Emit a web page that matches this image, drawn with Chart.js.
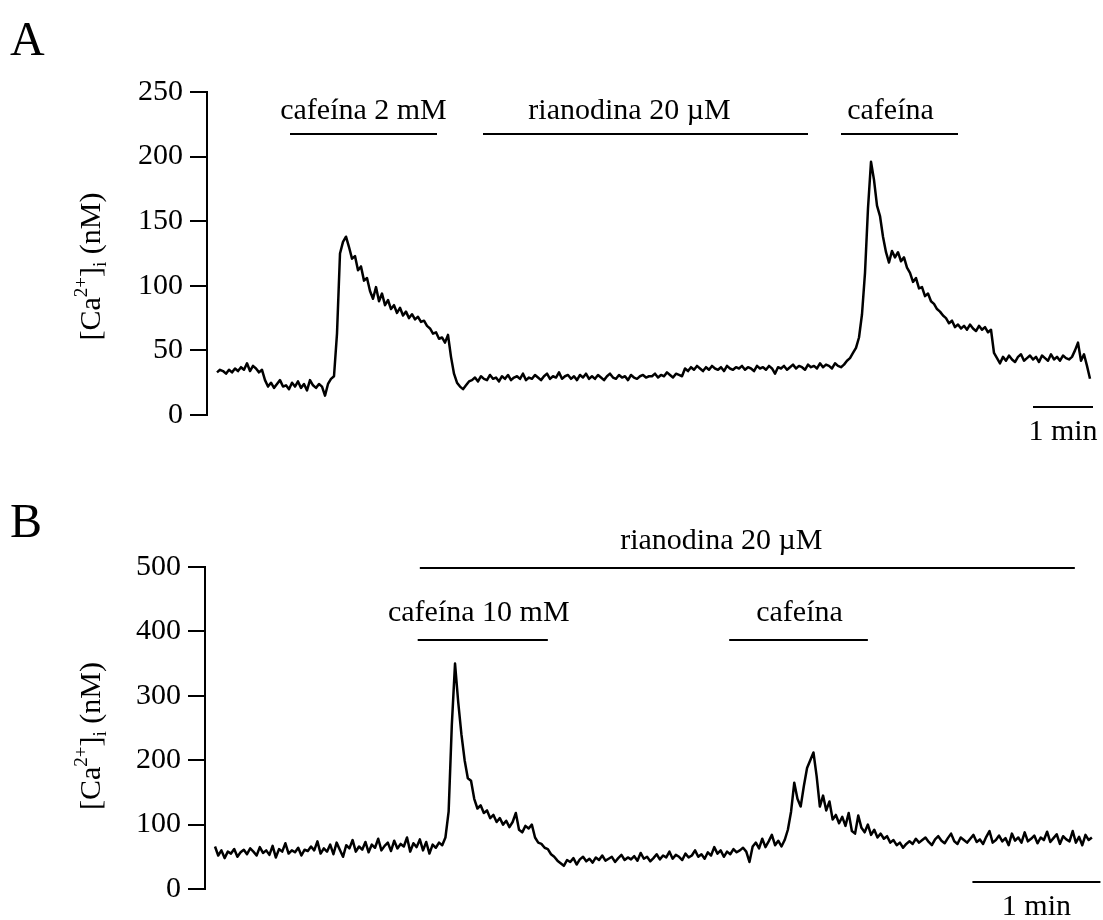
<!DOCTYPE html>
<html>
<head>
<meta charset="utf-8">
<title>[Ca2+]i: cafeína y rianodina</title>
<script src="https://cdn.jsdelivr.net/npm/chart.js@4.4.1/dist/chart.umd.min.js"></script>
<style>
  html, body { margin: 0; padding: 0; background: #fff; }
  .panel { width: 1103px; height: 460px; }
  canvas { display: block; }
</style>
</head>
<body>
<div class="panel"><canvas id="traceA" width="1103" height="460"></canvas></div>
<div class="panel"><canvas id="traceB" width="1103" height="460"></canvas></div>
<script>
// ---- panel A: one sample every 3 s, [Ca2+]i in nM ----
const stepA = 3;
const caA = [
  33, 35, 34, 32, 35, 33, 36, 34, 37, 35, 40, 34, 38, 36, 33, 35,
  27,
  22, 25, 21, 24, 27, 22, 23, 20, 25, 22, 26, 21, 24, 19, 27, 23, 21, 24, 22,
  15, 24, 28, 30,
  63, 125, 134, 138, 130, 121, 123, 112, 115, 104, 106, 96, 90, 99, 88, 94,
  85, 89, 82, 85, 79, 83, 77, 80, 75, 78, 74, 76, 72, 73, 69, 67, 63, 64,
  59, 60, 56, 62, 45, 32, 25, 22, 20, 23, 26,
  27, 29, 26, 30, 28, 27, 31, 28, 29, 26, 30, 28, 31, 27, 29, 30, 28, 32, 27, 29,
  28, 31, 29, 27, 30, 32, 28, 30, 29, 33, 28, 30, 31, 28, 30, 27, 31, 29, 32, 28,
  30, 28, 31, 29, 27, 30, 32, 29, 28, 31, 29, 30, 27, 31, 29, 28, 30, 31, 29, 30,
  30, 32, 29, 31, 30, 33, 31, 29, 32, 31, 30,
  36, 34, 37, 35, 38, 36, 34, 37, 35, 38, 36, 35, 37, 34, 38, 36, 35, 37, 36, 38,
  35, 37, 36, 34, 38, 36, 37, 35, 38, 36, 32, 37, 36, 38, 35, 37, 39, 36, 38, 37,
  35, 39, 37, 38, 36, 40, 37, 39, 38, 36, 40, 38, 37, 39,
  42, 44, 48, 52, 60, 78, 110, 160, 196, 182, 162, 154, 138, 126, 118, 127,
  122, 126, 119, 122, 114, 110, 103, 106, 98, 99, 92, 94, 88, 86, 82, 80,
  77, 75, 71, 73, 68, 70, 67, 69, 66, 70, 67, 65, 69, 66, 68, 64, 66, 48, 44, 40,
  45, 42, 46, 43, 41, 45, 47, 42, 44, 46, 43, 45, 41, 46, 44, 42, 47, 43, 45, 42,
  46, 44, 43, 45,
  50, 56, 42, 47, 38, 28
];
const yTicksA = [0, 50, 100, 150, 200, 250];
const drugLabelsA = ['cafeína 2 mM', 'rianodina 20 µM', 'cafeína'];
const drugStartA = [73, 266, 624];   // s
const drugEndA = [220, 591, 741];    // s
const scaleBarStartA = 816;          // s

// ---- panel B: one sample every 1.5 s ----
const stepB = 1.5;
const caB = [
  66, 52, 60, 48, 58, 55, 62, 50, 57, 61,
  54, 63, 58, 52, 65, 56, 60, 53, 67, 49,
  62, 58, 71, 55, 60, 57, 64, 52, 61, 59,
  66, 60, 74, 55, 63, 58, 69, 54, 72, 61,
  50, 68, 63, 76, 58, 66, 61, 73, 57, 69,
  64, 78, 60, 67, 72, 59, 75, 63, 70, 66,
  80, 58, 71, 65, 77, 60, 73, 55, 69, 64,
  72, 68,
  80, 120, 255, 350, 290, 240, 200, 172, 168, 140, 125, 130, 118, 122, 110,
  115, 104, 110, 100, 106, 96, 104, 118, 92, 88, 98, 94, 100, 80, 72, 70,
  64, 62, 54, 50, 44, 40, 36, 45,
  42, 48, 38, 46, 50, 43, 47, 41, 49, 45,
  52, 44, 47, 50, 42, 48, 53, 45, 49, 46,
  51, 44, 56, 47, 50, 43, 48, 54, 46, 52,
  49, 58, 47, 53, 50, 45, 55, 49, 52, 60,
  50, 54, 47, 57, 52, 65, 55, 60, 50, 58,
  54, 62, 57, 60, 64, 58, 42, 66, 72, 63,
  78, 65, 74, 84, 68, 75, 66,
  76, 92, 120, 165, 140, 128, 160, 188, 200, 212, 175, 128, 145, 122, 136,
  108, 115, 102, 112, 98, 118, 90, 86, 114, 95, 88, 100, 84, 92, 80, 86,
  78, 82, 72, 76, 68, 72, 64, 70,
  74, 70, 78, 72, 76, 80, 73, 68, 77, 82,
  75, 71, 79, 86, 74, 70, 80, 76, 72, 78,
  84, 73, 77, 70, 81, 90, 72, 76, 83, 74,
  79, 68, 86, 75, 80, 72, 88, 74, 78, 83,
  71, 80, 76, 89, 73, 79, 85, 70, 82, 77,
  74, 90, 72, 81, 68, 84, 76, 80
];
const yTicksB = [0, 100, 200, 300, 400, 500];
const drugLabelsB = ['rianodina 20 µM', 'cafeína 10 mM', 'cafeína'];
const drugStartB = [96, 95, 241];
const drugEndB = [403, 156, 306];
const scaleBarStartB = 355;

const scaleBarLength = 60;  // 1 min
const serif = '"Liberation Serif", "Times New Roman", serif';

Chart.defaults.font.family = serif;
Chart.defaults.color = '#000';

function toPoints(values, step) {
  return values.map((v, i) => ({ x: i * step, y: v }));
}

// draws "[Ca2+]i (nM)" rotated, with real super/subscripts
function drawCaTitle(ctx, baseX, centerY) {
  const big = '30px ' + serif, small = '19px ' + serif;
  const parts = [
    { t: '[Ca', f: big, dy: 0 },
    { t: '2+', f: small, dy: -13 },
    { t: ']', f: big, dy: 0 },
    { t: 'i', f: small, dy: 6 },
    { t: ' (nM)', f: big, dy: 0 }
  ];
  let total = 0;
  parts.forEach(p => { ctx.font = p.f; p.w = ctx.measureText(p.t).width; total += p.w; });
  ctx.save();
  ctx.translate(baseX, centerY);
  ctx.rotate(-Math.PI / 2);
  ctx.textAlign = 'left';
  ctx.textBaseline = 'alphabetic';
  let x = -total / 2;
  parts.forEach(p => { ctx.font = p.f; ctx.fillText(p.t, x, p.dy); x += p.w; });
  ctx.restore();
}

// drug application bars, 1 min scale bar, axis title, panel letter
function overlay(cfg) {
  return {
    id: 'overlay' + cfg.letter,
    afterDraw(chart) {
      const ctx = chart.ctx, xs = chart.scales.x, area = chart.chartArea;
      ctx.save();
      ctx.fillStyle = '#000';
      ctx.strokeStyle = '#000';
      ctx.lineWidth = 2;
      ctx.font = '30px ' + serif;
      ctx.textAlign = 'center';
      ctx.textBaseline = 'alphabetic';
      cfg.labels.forEach((label, i) => {
        const x1 = xs.getPixelForValue(cfg.starts[i]);
        const x2 = xs.getPixelForValue(cfg.ends[i]);
        const y = area.top + cfg.rows[i];
        ctx.beginPath();
        ctx.moveTo(x1, y);
        ctx.lineTo(x2, y);
        ctx.stroke();
        ctx.fillText(label, (x1 + x2) / 2 + cfg.labelShift[i], y - cfg.labelGap);
      });

      const s1 = xs.getPixelForValue(cfg.barStart);
      const s2 = xs.getPixelForValue(cfg.barStart + scaleBarLength);
      const sy = area.bottom + cfg.barOffset;
      ctx.beginPath();
      ctx.moveTo(s1, sy);
      ctx.lineTo(s2, sy);
      ctx.stroke();
      ctx.fillText('1 min', (s1 + s2) / 2, sy + 33);

      drawCaTitle(ctx, 100, (area.top + area.bottom) / 2 + cfg.titleShift);

      ctx.font = '48px ' + serif;
      ctx.textAlign = 'left';
      ctx.fillText(cfg.letter, 10, cfg.letterBase);
      ctx.restore();
    }
  };
}

function makeTrace(canvasId, values, step, ticks, xMin, xMax, axisX, pad, cfg) {
  const max = ticks[ticks.length - 1];
  return new Chart(document.getElementById(canvasId), {
    type: 'line',
    data: {
      datasets: [{
        data: toPoints(values, step),
        borderColor: '#000',
        borderWidth: 2.5,
        borderJoinStyle: 'round',
        pointRadius: 0,
        tension: 0,
        fill: false
      }]
    },
    options: {
      responsive: false,
      animation: false,
      devicePixelRatio: 1,
      events: [],
      layout: { padding: pad },
      scales: {
        x: { type: 'linear', min: xMin, max: xMax, display: false },
        y: {
          min: 0,
          max: max,
          afterBuildTicks: (s) => { s.ticks = ticks.map(v => ({ value: v })); },
          afterFit: (s) => { s.width = axisX; },
          ticks: { color: '#000', padding: 7, font: { family: serif, size: 30 } },
          grid: { drawOnChartArea: false, drawTicks: true, tickLength: 17, color: '#000', lineWidth: 2 },
          border: { display: true, color: '#000', width: 2 }
        }
      },
      plugins: { legend: { display: false }, tooltip: { enabled: false } }
    },
    plugins: [overlay(cfg)]
  });
}

// A: 1 px per second, trace starts 10 px right of the axis
makeTrace('traceA', caA, stepA, yTicksA, -10, 878, 207,
  { left: 0, right: 8, top: 92, bottom: 45 },
  { letter: 'A', letterBase: 55, labels: drugLabelsA, starts: drugStartA, ends: drugEndA,
    rows: [42, 42, 42], labelGap: 15, labelShift: [0, -16, -9],
    barStart: scaleBarStartA, barOffset: -8, titleShift: 13 });

// B: 128 px per minute
makeTrace('traceB', caB, stepB, yTicksB, -4.69, 414.8, 205,
  { left: 0, right: 3, top: 107, bottom: 31 },
  { letter: 'B', letterBase: 77, labels: drugLabelsB, starts: drugStartB, ends: drugEndB,
    rows: [1, 73, 73], labelGap: 19, labelShift: [-26, -4, 1],
    barStart: scaleBarStartB, barOffset: -7, titleShift: 8 });
</script>
</body>
</html>
